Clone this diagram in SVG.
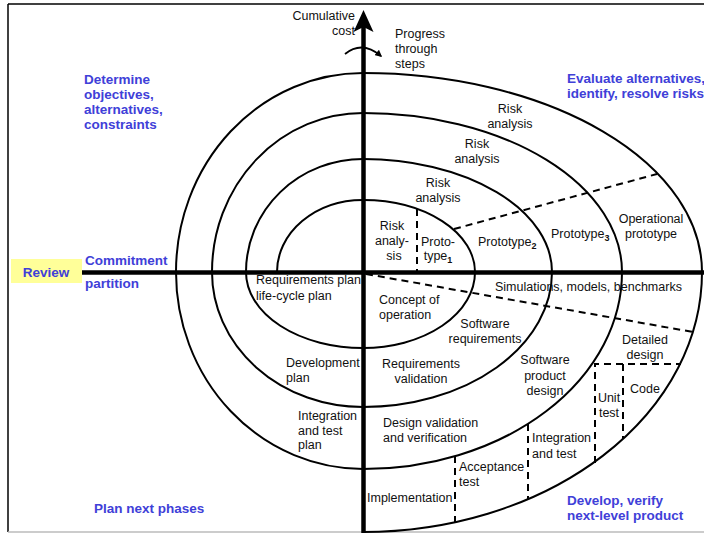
<svg xmlns="http://www.w3.org/2000/svg" width="704" height="533" viewBox="0 0 704 533">
<style>
text{font-family:"Liberation Sans",Arial,sans-serif;}
.t{font-size:12.5px;fill:#111;}
.m{text-anchor:middle;}
.b{font-size:13.5px;font-weight:bold;fill:#4040D8;}
.sp{fill:none;stroke:#000;stroke-width:2;}
.d{fill:none;stroke:#000;stroke-width:2;stroke-dasharray:7 5;}
.ax{stroke:#000;stroke-width:4.5;fill:none;}
.sub{font-size:9px;font-weight:bold;}
</style>
<defs>
<marker id="ah" viewBox="0 0 10 10" refX="8" refY="5" markerWidth="7" markerHeight="7" orient="auto" markerUnits="userSpaceOnUse">
<path d="M0,0 L10,5 L0,10 z" fill="#000"/>
</marker>
</defs>
<rect x="0" y="0" width="704" height="533" fill="#fff"/>
<g id="frame">
<line x1="8" y1="4" x2="704" y2="4" stroke="#000" stroke-width="1.5"/>
<line x1="8" y1="4" x2="8" y2="532" stroke="#000" stroke-width="1.5"/>
<line x1="8" y1="532" x2="704" y2="532" stroke="#bbb" stroke-width="1.5"/>
</g>
<g id="spiral">
<path class="sp" d="M277,272 A86,72 0 0 1 363,200 A112,72 0 0 1 475,272 A112,76 0 0 1 363,348 A117,76 0 0 1 246,272 A117,113 0 0 1 363,159 A189,113 0 0 1 552,272 A189,135 0 0 1 363,407 A151,135 0 0 1 212,272 A151,159 0 0 1 363,113 A259,159 0 0 1 622,272 A259,197 0 0 1 363,469 A187,197 0 0 1 176,272 A187,199 0 0 1 363,73 A339,199 0 0 1 702,272 A339,260 0 0 1 363,532"/>
</g>
<g id="connectors">
<line class="d" x1="417" y1="209" x2="417" y2="272"/>
<line class="d" x1="454" y1="229" x2="657" y2="174"/>
<line class="d" x1="366" y1="274" x2="693" y2="332"/>
<polyline class="d" points="595,463 595,364 681,364"/>
<line class="d" x1="623" y1="364" x2="623" y2="439"/>
<line class="d" x1="528" y1="424" x2="528" y2="499"/>
<line class="d" x1="455" y1="456" x2="455" y2="522"/>
</g>
<g id="axes">
<line class="ax" x1="82" y1="272.5" x2="704" y2="272.5"/>
<line class="ax" x1="363.5" y1="26" x2="363.5" y2="533"/>
<path d="M363.5,10 L373.5,32 L363.5,27 L353.5,32 z" fill="#000"/>
<path d="M345,54 Q362,40 381,56" fill="none" stroke="#000" stroke-width="1.8" marker-end="url(#ah)"/>
</g>
<g id="review">
<rect x="11" y="259" width="71" height="24" fill="#FFFF99"/>
<text class="b m" x="46" y="277">Review</text>
</g>
<g id="quadrant-labels">
<text class="b" x="84" y="84">Determine</text>
<text class="b" x="84" y="99">objectives,</text>
<text class="b" x="84" y="114">alternatives,</text>
<text class="b" x="84" y="129">constraints</text>
<text class="b" x="567" y="83">Evaluate alternatives,</text>
<text class="b" x="567" y="98">identify, resolve risks</text>
<text class="b" x="85" y="265">Commitment</text>
<text class="b" x="85" y="288">partition</text>
<text class="b" x="94" y="513">Plan next phases</text>
<text class="b" x="567" y="505">Develop, verify</text>
<text class="b" x="567" y="520">next-level product</text>
</g>
<g id="axis-labels">
<text class="t" x="355" y="20" text-anchor="end">Cumulative</text>
<text class="t" x="355" y="35" text-anchor="end">cost</text>
<text class="t" x="395" y="38">Progress</text>
<text class="t" x="395" y="53">through</text>
<text class="t" x="395" y="68">steps</text>
</g>
<g id="risk-analysis">
<text class="t m" x="510" y="113">Risk</text>
<text class="t m" x="510" y="128">analysis</text>
<text class="t m" x="477" y="148">Risk</text>
<text class="t m" x="477" y="163">analysis</text>
<text class="t m" x="438" y="187">Risk</text>
<text class="t m" x="438" y="202">analysis</text>
<text class="t m" x="392" y="230">Risk</text>
<text class="t m" x="392" y="245">analy-</text>
<text class="t m" x="394" y="260">sis</text>
</g>
<g id="prototypes">
<text class="t m" x="438" y="246">Proto-</text>
<text class="t m" x="438" y="260">type<tspan class="sub" dy="3">1</tspan></text>
<text class="t" x="478" y="246">Prototype<tspan class="sub" dy="3">2</tspan></text>
<text class="t" x="551" y="238">Prototype<tspan class="sub" dy="3">3</tspan></text>
<text class="t m" x="651" y="223">Operational</text>
<text class="t m" x="651" y="238">prototype</text>
</g>
<g id="develop">
<text class="t" x="495" y="291">Simulations, models, benchmarks</text>
<text class="t" x="379" y="304">Concept of</text>
<text class="t" x="379" y="319">operation</text>
<text class="t m" x="485" y="328">Software</text>
<text class="t m" x="485" y="343">requirements</text>
<text class="t m" x="421" y="368">Requirements</text>
<text class="t m" x="421" y="383">validation</text>
<text class="t m" x="545" y="364">Software</text>
<text class="t m" x="545" y="380">product</text>
<text class="t m" x="545" y="395">design</text>
<text class="t m" x="645" y="344">Detailed</text>
<text class="t m" x="645" y="359">design</text>
<text class="t m" x="645" y="393">Code</text>
<text class="t m" x="609" y="402">Unit</text>
<text class="t m" x="609" y="417">test</text>
<text class="t" x="383" y="427">Design validation</text>
<text class="t" x="383" y="442">and verification</text>
<text class="t" x="532" y="442">Integration</text>
<text class="t" x="532" y="458">and test</text>
<text class="t" x="459" y="471">Acceptance</text>
<text class="t" x="459" y="486">test</text>
<text class="t" x="367" y="502">Implementation</text>
</g>
<g id="plans">
<text class="t" x="256" y="284">Requirements plan</text>
<text class="t" x="256" y="300">life-cycle plan</text>
<text class="t" x="286" y="367">Development</text>
<text class="t" x="286" y="382">plan</text>
<text class="t" x="298" y="420">Integration</text>
<text class="t" x="298" y="435">and test</text>
<text class="t" x="298" y="449">plan</text>
</g>
</svg>
